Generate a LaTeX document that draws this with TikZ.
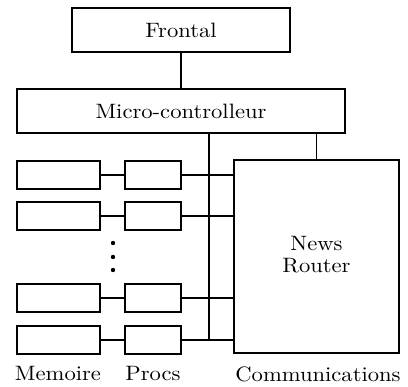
\documentclass[tikz,border=0pt]{standalone}
\newcommand{\bigtxt}[1]{\scalebox{2.26}[2.08]{#1}}
\begin{document}
\begin{tikzpicture}[x=1pt,y=-1pt,
  box/.style={draw,line width=1.5pt,inner sep=0pt,anchor=center},
  conn/.style={line width=1.5pt},
  lbl/.style={inner sep=0pt,anchor=center}]
\useasboundingbox (0,0) rectangle (408,387);
\node[box,minimum width=218pt,minimum height=44pt] (frontal) at (181,30) {\bigtxt{Frontal}};
\node[box,minimum width=328pt,minimum height=44pt] (micro) at (181,111) {\bigtxt{Micro-controlleur}};
\node[box,minimum width=165pt,minimum height=193pt] (router) at (316.5,256.5) {\bigtxt{\begin{tabular}{@{}c@{}}News\\[-1.5pt]Router\end{tabular}}};
\foreach \i/\y in {1/175,2/216,3/298,4/340}{
  \node[box,minimum width=83pt,minimum height=28pt] (m\i) at (58.5,\y) {};
  \node[box,minimum width=56pt,minimum height=28pt] (p\i) at (153,\y) {};
  \draw[conn] (m\i.east) -- (p\i.west);
  \draw[conn] (p\i.east) -- (p\i.east -| router.west);
}
\coordinate (bus) at (209,340);
\draw[conn] (frontal.south) -- (micro.north);
\draw[conn] (micro.south -| bus) -- (bus);
\draw[conn] (micro.south -| router.north) -- (router.north);
\foreach \y [count=\k] in {243,257,270}{
  \fill (113,\y) circle (2.2pt);
}
\node[lbl] (lmem) at (58,374) {\bigtxt{Memoire}};
\node[lbl] (lproc) at (153,374) {\bigtxt{Procs}};
\node[lbl] (lcomm) at (318,374) {\bigtxt{Communications}};
\end{tikzpicture}
\end{document}
